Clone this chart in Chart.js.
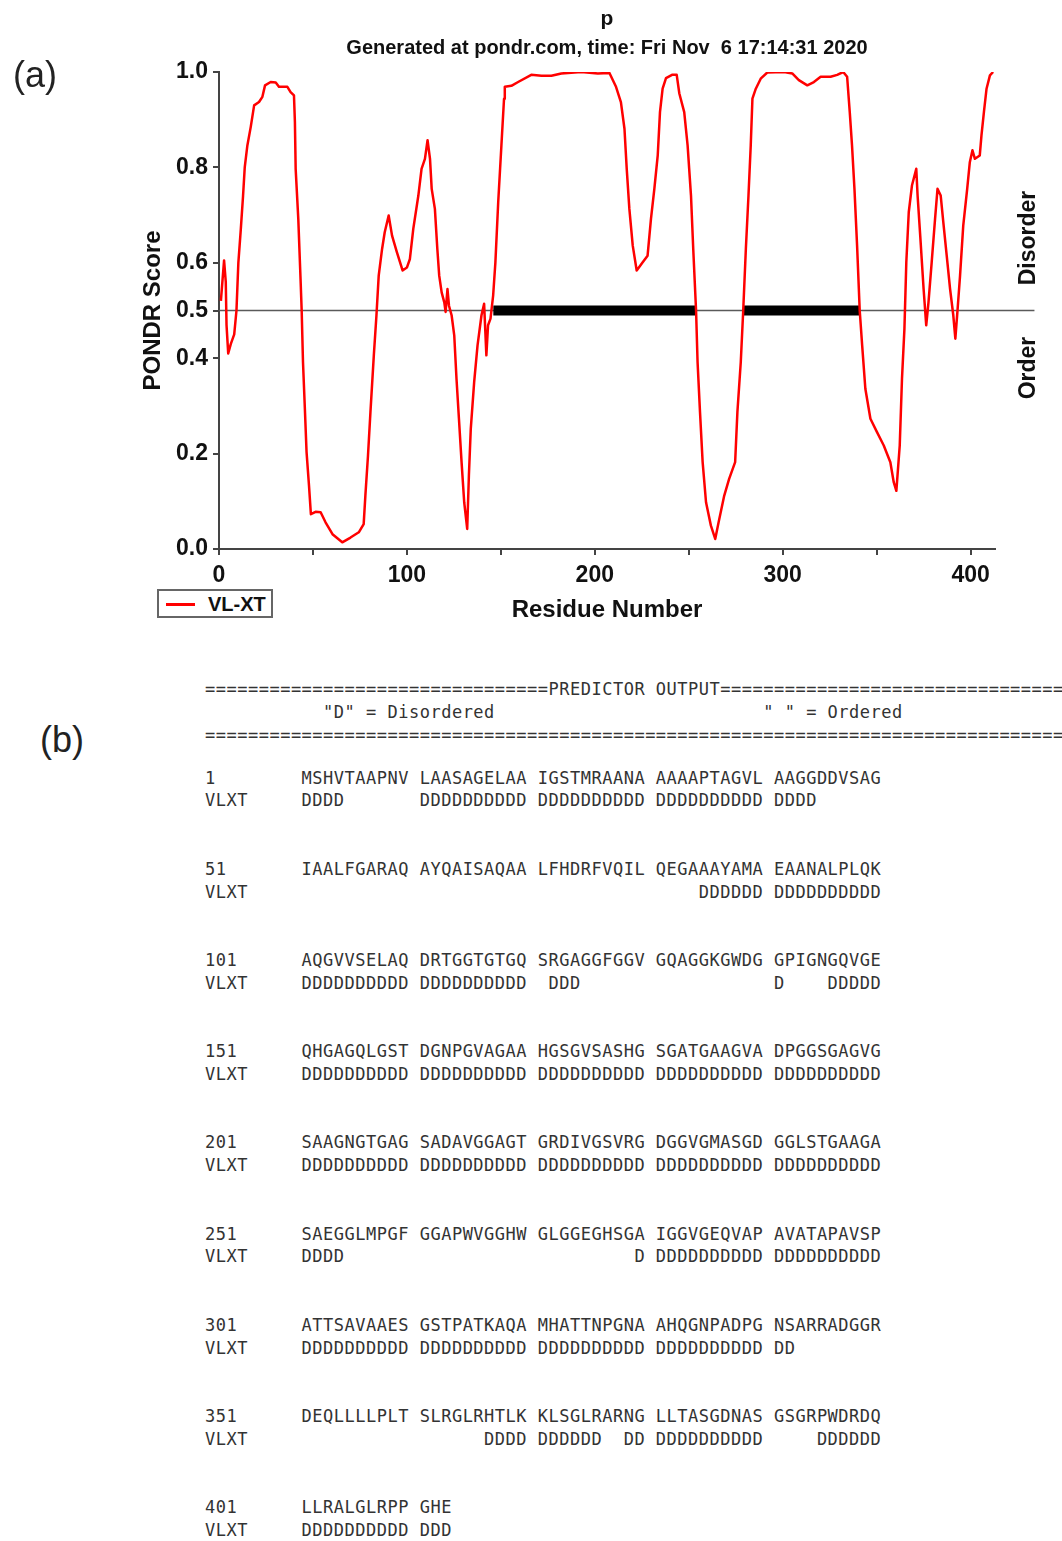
<!DOCTYPE html>
<html>
<head>
<meta charset="utf-8">
<script src="https://cdn.jsdelivr.net/npm/chart.js@4.4.1/dist/chart.umd.min.js"></script>
<style>
  html, body { margin: 0; padding: 0; background: #fff; }
  body { width: 1062px; height: 1541px; position: relative; overflow: hidden; font-family: "Liberation Sans", Arial, sans-serif; }
  #plot { position: absolute; left: 0; top: 0; }
  .lbl { position: absolute; white-space: nowrap; color: #111; }
  .center { left: 219px; width: 776px; text-align: center; font-weight: bold; }
  .rot { font-weight: bold; font-size: 23px; transform: translate(-50%, -50%) rotate(-90deg); }
  .panel { font-size: 36px; transform: translate(-50%, -50%); color: #222; }
  #legend { position: absolute; left: 157px; top: 589px; width: 116px; height: 29px; box-sizing: border-box; border: 2px solid #666; background: #fff; }
  #legend .swatch { position: absolute; left: 7px; top: 12px; width: 29px; height: 3px; background: #ff0000; }
  #legend .txt { position: absolute; left: 49px; top: 2px; font-weight: bold; font-size: 20px; line-height: 22px; color: #111; }
  pre { position: absolute; left: 205px; margin: 0; font-family: "DejaVu Sans Mono", monospace; font-size: 17px; letter-spacing: 0.5px; color: #333; }
  #hdr { top: 678px; line-height: 23px; }
  #rows { top: 766.6px; line-height: 22.8px; }
</style>
</head>
<body>
<canvas id="plot" width="1062" height="640"></canvas>

<div class="lbl center" style="top:5px;font-size:21px;line-height:25px;">p</div>
<div class="lbl center" style="top:35px;font-size:20px;line-height:24px;">Generated at pondr.com, time: Fri Nov&nbsp;&nbsp;6 17:14:31 2020</div>
<div class="lbl rot" style="left:1027px;top:238px;">Disorder</div>
<div class="lbl rot" style="left:1027px;top:368px;">Order</div>
<div class="lbl panel" style="left:35px;top:75px;">(a)</div>
<div class="lbl panel" style="left:62px;top:740px;">(b)</div>
<div id="legend"><div class="swatch"></div><div class="txt">VL-XT</div></div>

<pre id="hdr"></pre>
<pre id="rows"></pre>

<script>
// ==========================================
// 1. DATA
// ==========================================
const residue = [
  1, 1.5, 2.7, 3.6, 4, 4.9, 6.3, 8.1, 9.3, 10.3, 11.6, 12.8, 13.7, 15.1, 16.9, 18.7, 21.3, 23.1, 24.5, 27.5,
  30.2, 31.9, 34.6, 36.4, 38.1, 39.9, 40.4, 40.8, 42.2, 43.4, 44, 44.7, 45.7, 46.6, 47.9, 48.9, 51.4, 54.1, 56.7, 60.4,
  65.6, 70, 74.4, 77, 77.9, 79.3, 80.6, 82.4, 83.8, 85, 86.8, 88.2, 90.3, 92.1, 94.7, 97.7, 100,
  101.6, 103.4, 106.1, 107.8, 109.6, 111, 112.3, 113.2, 114.9, 116.2, 117.2, 118.5, 119.9, 120.6, 121.6, 122.4, 123.8,
  125.2, 126.4, 127.7, 129.1, 130.5, 132.1, 133, 134, 135.8, 137.6, 139.7, 141.1, 142.3, 143.2, 144.5, 145.9, 147.1,
  148.6, 150.3, 151.7, 152.1, 155.6, 159.2, 166.2, 171.6, 176.9, 182.2, 192.8, 201.6, 207.8,
  211.3, 213.9, 215.8, 217, 218.4, 220.2, 222.3, 225.5, 228.1, 229.9, 231.7, 233.5, 234.7, 236.1, 237.9, 241.1, 243.6,
  245, 247.6, 249.4, 251.2, 252.4, 253.9, 254.7, 256, 257.4, 259.2, 261.8, 264.1, 265.9, 268.9, 271.5, 274.7, 275.9,
  277.7, 279, 280.4, 281.8, 283, 283.9, 285.7, 288.3, 291.8, 300.7, 305.1, 308.6,
  313.1, 316.6, 320.2, 325.5, 329, 332.2, 334.3, 335.7, 336.9, 338.2, 339.6, 341, 342.3, 344, 346.7, 350.2, 353.8,
  357.3, 359.1, 360.5, 362.3, 363.5, 364.8, 365.8, 367.1, 368.8, 371.1, 371.8, 373.2, 375, 376.4, 377.6, 379.3, 381.1,
  382.4, 384.1, 385.5, 387.3, 389.1, 390.8, 391.9, 393.1, 394.4, 396.1, 398.2, 399.6, 401, 402.3, 404.9, 405.8, 407.1,
  408.5, 410.3, 412
];
const score = [
  0.52, 0.545, 0.605, 0.56, 0.47, 0.41, 0.43, 0.45, 0.50, 0.60, 0.67, 0.74, 0.80, 0.846, 0.885, 0.93, 0.937, 0.948, 0.972, 0.979,
  0.978, 0.969, 0.969, 0.969, 0.958, 0.951, 0.895, 0.797, 0.692, 0.566, 0.50, 0.392, 0.294, 0.203, 0.133, 0.073, 0.078, 0.077, 0.056, 0.031,
  0.014, 0.024, 0.035, 0.052, 0.112, 0.196, 0.287, 0.406, 0.49, 0.573, 0.629, 0.664, 0.699, 0.657, 0.622, 0.584, 0.59,
  0.608, 0.671, 0.741, 0.797, 0.818, 0.857, 0.818, 0.755, 0.713, 0.629, 0.573, 0.538, 0.517, 0.497, 0.545, 0.51, 0.49,
  0.448, 0.357, 0.273, 0.182, 0.098, 0.042, 0.154, 0.252, 0.35, 0.427, 0.49, 0.514, 0.406, 0.469, 0.483, 0.531, 0.601,
  0.727, 0.846, 0.944, 0.969, 0.971, 0.979, 0.994, 0.992, 0.992, 0.997, 1.0, 0.997, 0.998,
  0.969, 0.937, 0.881, 0.797, 0.713, 0.636, 0.584, 0.601, 0.615, 0.692, 0.755, 0.825, 0.916, 0.965, 0.987, 0.994, 0.994,
  0.955, 0.916, 0.846, 0.741, 0.629, 0.5, 0.392, 0.287, 0.182, 0.098, 0.049, 0.021, 0.056, 0.112, 0.147, 0.182, 0.287,
  0.392, 0.5, 0.629, 0.741, 0.846, 0.944, 0.965, 0.986, 0.999, 1.0, 0.997, 0.983,
  0.972, 0.979, 0.99, 0.99, 0.994, 1.0, 0.99, 0.916, 0.846, 0.755, 0.636, 0.5, 0.427, 0.336, 0.273, 0.245, 0.217,
  0.182, 0.14, 0.122, 0.217, 0.357, 0.462, 0.601, 0.706, 0.762, 0.797, 0.741, 0.657, 0.545, 0.469, 0.517, 0.601, 0.692,
  0.755, 0.741, 0.685, 0.615, 0.545, 0.49, 0.441, 0.503, 0.573, 0.678, 0.755, 0.811, 0.836, 0.818, 0.825, 0.867, 0.916,
  0.965, 0.993, 1.0
];

// long disordered regions, drawn as thick bars on the 0.5 line
const longDisorder = [[146, 254], [279, 341]];
const threshold = 0.5;
const thresholdLineEnd = 434;   // the cut-off line runs past the axis end
const seqLength = 413;
const yTickValues = [0, 0.2, 0.4, 0.5, 0.6, 0.8, 1.0];

// predictor output text
const rowStarts = [1, 51, 101, 151, 201, 251, 301, 351, 401];
const seqRows = [
  "MSHVTAAPNV LAASAGELAA IGSTMRAANA AAAAPTAGVL AAGGDDVSAG",
  "IAALFGARAQ AYQAISAQAA LFHDRFVQIL QEGAAAYAMA EAANALPLQK",
  "AQGVVSELAQ DRTGGTGTGQ SRGAGGFGGV GQAGGKGWDG GPIGNGQVGE",
  "QHGAGQLGST DGNPGVAGAA HGSGVSASHG SGATGAAGVA DPGGSGAGVG",
  "SAAGNGTGAG SADAVGGAGT GRDIVGSVRG DGGVGMASGD GGLSTGAAGA",
  "SAEGGLMPGF GGAPWVGGHW GLGGEGHSGA IGGVGEQVAP AVATAPAVSP",
  "ATTSAVAAES GSTPATKAQA MHATTNPGNA AHQGNPADPG NSARRADGGR",
  "DEQLLLLPLT SLRGLRHTLK KLSGLRARNG LLTASGDNAS GSGRPWDRDQ",
  "LLRALGLRPP GHE"
];
const vlxtRows = [
  "DDDD       DDDDDDDDDD DDDDDDDDDD DDDDDDDDDD DDDD",
  "                                     DDDDDD DDDDDDDDDD",
  "DDDDDDDDDD DDDDDDDDDD  DDD                  D    DDDDD",
  "DDDDDDDDDD DDDDDDDDDD DDDDDDDDDD DDDDDDDDDD DDDDDDDDDD",
  "DDDDDDDDDD DDDDDDDDDD DDDDDDDDDD DDDDDDDDDD DDDDDDDDDD",
  "DDDD                           D DDDDDDDDDD DDDDDDDDDD",
  "DDDDDDDDDD DDDDDDDDDD DDDDDDDDDD DDDDDDDDDD DD",
  "                 DDDD DDDDDD  DD DDDDDDDDDD     DDDDDD",
  "DDDDDDDDDD DDD"
];

// ==========================================
// 2. TEXT PANEL (b)
// ==========================================
const hdrLines = [
  "=".repeat(32) + "PREDICTOR OUTPUT" + "=".repeat(50),
  " ".repeat(11) + '"D" = Disordered' + " ".repeat(25) + '" " = Ordered',
  "=".repeat(98)
];
document.getElementById('hdr').textContent = hdrLines.join("\n");

let rowText = [];
rowStarts.forEach((n, i) => {
  rowText.push(String(n).padEnd(9) + seqRows[i]);
  rowText.push("VLXT".padEnd(9) + vlxtRows[i]);
  if (i < rowStarts.length - 1) { rowText.push(""); rowText.push(""); }
});
document.getElementById('rows').textContent = rowText.join("\n");

// ==========================================
// 3. CHART
// ==========================================
const tickFont = { family: "Liberation Sans, Arial, sans-serif", size: 23, weight: 'bold' };
const titleFont = { family: "Liberation Sans, Arial, sans-serif", size: 24, weight: 'bold' };

const datasets = [{
  label: 'VL-XT',
  data: residue.map((r, i) => ({ x: r, y: score[i] })),
  borderColor: '#ff0000', borderWidth: 2.5, pointRadius: 0, tension: 0,
  borderJoinStyle: 'round', order: 0
}];
longDisorder.forEach(reg => {
  datasets.push({
    label: 'disorder region',
    data: [{ x: reg[0], y: threshold }, { x: reg[1], y: threshold }],
    borderColor: '#000', borderWidth: 10, borderCapStyle: 'butt', pointRadius: 0, order: 1
  });
});
datasets.push({
  label: 'cut-off',
  data: [{ x: 0, y: threshold }, { x: thresholdLineEnd, y: threshold }],
  borderColor: '#5a5a5a', borderWidth: 1.5, pointRadius: 0, clip: false, order: 2
});

new Chart(document.getElementById('plot').getContext('2d'), {
  type: 'line',
  data: { datasets: datasets },
  options: {
    responsive: false, animation: false, devicePixelRatio: 1,
    layout: { padding: { left: 130, top: 72, right: 67, bottom: 11 } },
    plugins: { legend: { display: false }, tooltip: { enabled: false } },
    scales: {
      x: {
        type: 'linear', min: 0, max: seqLength,
        border: { display: true, color: '#444', width: 2 },
        grid: { drawOnChartArea: false, drawTicks: true, tickLength: 6, color: '#444', lineWidth: 2 },
        ticks: {
          stepSize: 50, includeBounds: false, autoSkip: false, maxRotation: 0, padding: 7,
          color: '#111', font: tickFont,
          callback: v => (v % 100 === 0 ? v : '')
        },
        title: { display: true, text: 'Residue Number', color: '#111', font: titleFont, padding: { top: 0, bottom: 4.6 } },
        afterFit: s => { s.height = 80; }
      },
      y: {
        type: 'linear', min: 0, max: 1,
        border: { display: true, color: '#444', width: 2 },
        grid: { drawOnChartArea: false, drawTicks: true, tickLength: 6, color: '#444', lineWidth: 2 },
        ticks: { padding: 5, color: '#111', font: tickFont, callback: v => v.toFixed(1) },
        afterBuildTicks: s => { s.ticks = yTickValues.map(v => ({ value: v })); },
        title: { display: true, text: 'PONDR Score', color: '#111', font: titleFont, padding: { top: 8.6, bottom: 0 } },
        afterFit: s => { s.width = 89; }
      }
    }
  }
});
</script>
</body>
</html>
